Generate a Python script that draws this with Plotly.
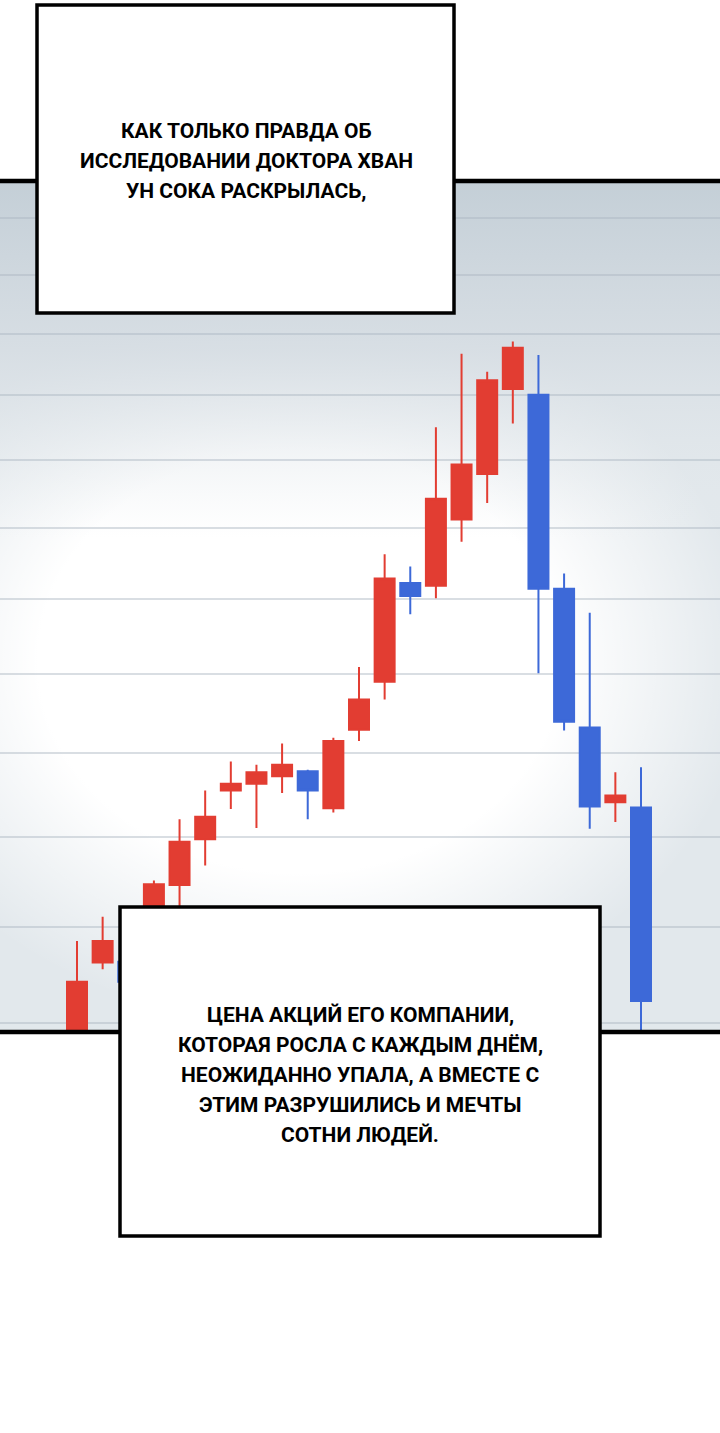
import math
import base64
import plotly.graph_objects as go

# ---- data ----
days = list(range(1, 24))
open_ = [13.60, 14.62, 14.63, 14.97, 15.46, 15.98, 16.55, 16.63, 16.72, 16.78, 16.34, 17.29,
         17.90, 19.22, 19.18, 20.12, 20.79, 22.10, 22.01, 19.14, 17.32, 16.41, 16.35]
high = [14.85, 15.11, 14.71, 15.51, 16.21, 16.55, 16.90, 16.86, 17.12, 16.80, 17.19, 18.09,
        19.62, 19.45, 21.50, 22.67, 22.38, 22.87, 22.65, 19.35, 18.81, 16.77, 16.83]
low = [13.40, 14.55, 14.34, 14.85, 15.22, 15.68, 16.33, 16.11, 16.52, 16.21, 16.29, 17.15,
       17.67, 18.79, 19.01, 19.80, 20.36, 21.56, 18.01, 17.28, 16.10, 16.18, 13.80]
close = [14.42, 14.85, 14.42, 15.47, 15.95, 16.24, 16.63, 16.77, 16.86, 16.55, 17.15, 17.67,
         19.28, 19.04, 20.42, 20.93, 22.24, 22.77, 19.14, 17.39, 16.36, 16.49, 14.22]
grid_values = list(range(14, 26))
y_bottom, y_top = 13.907, 25.675

lines_top = ["КАК ТОЛЬКО ПРАВДА ОБ", "ИССЛЕДОВАНИИ ДОКТОРА ХВАН", "УН СОКА РАСКРЫЛАСЬ,"]
lines_bottom = ["ЦЕНА АКЦИЙ ЕГО КОМПАНИИ,", "КОТОРАЯ РОСЛА С КАЖДЫМ ДНЁМ,",
                "НЕОЖИДАННО УПАЛА, А ВМЕСТЕ С", "ЭТИМ РАЗРУШИЛИСЬ И МЕЧТЫ", "СОТНИ ЛЮДЕЙ."]

RED = "#e23d32"
BLUE = "#3d69d8"

W, H = 720, 1433
PTOP, PBOT = 181, 1032
dom = [(H - PBOT) / H, (H - PTOP) / H]

# background vignette for the chart screen (decorative)
svg = '''<svg xmlns="http://www.w3.org/2000/svg" width="720" height="851" viewBox="0 0 720 851">
<defs>
<radialGradient id="r" cx="300" cy="480" r="430" gradientUnits="userSpaceOnUse" gradientTransform="translate(300 480) scale(1.05 0.85) translate(-300 -480)">
<stop offset="0" stop-color="#ffffff" stop-opacity="1"/>
<stop offset="0.58" stop-color="#ffffff" stop-opacity="1"/>
<stop offset="1" stop-color="#ffffff" stop-opacity="0"/>
</radialGradient>
<linearGradient id="t" x1="0" y1="0" x2="0" y2="1">
<stop offset="0" stop-color="#c4cfd7" stop-opacity="1"/>
<stop offset="0.2" stop-color="#d6dde3" stop-opacity="0.9"/>
<stop offset="0.42" stop-color="#e6ebee" stop-opacity="0"/>
</linearGradient>
</defs>
<rect width="720" height="851" fill="#e2e8ec"/>
<rect width="720" height="851" fill="url(#r)"/>
<rect width="720" height="851" fill="url(#t)"/>
</svg>'''
bg_uri = "data:image/svg+xml;base64," + base64.b64encode(svg.encode()).decode()

fig = go.Figure()
fig.add_trace(go.Candlestick(
    x=days, open=open_, high=high, low=low, close=close,
    increasing=dict(line=dict(color=RED, width=2), fillcolor=RED),
    decreasing=dict(line=dict(color=BLUE, width=2), fillcolor=BLUE),
    whiskerwidth=0, showlegend=False, hoverinfo="skip",
))

px_per_day = (641 - 77) / 22
x0 = days[0] - 77 / px_per_day
x1 = x0 + W / px_per_day

fig.update_layout(
    width=W, height=H, autosize=False,
    margin=dict(l=0, r=0, t=0, b=0),
    paper_bgcolor="white",
    plot_bgcolor="rgba(0,0,0,0)",
    boxgap=0.22, boxgroupgap=0,
    xaxis=dict(range=[x0, x1], showgrid=False, zeroline=False, showticklabels=False,
               ticks="", rangeslider=dict(visible=False), fixedrange=True),
    yaxis=dict(type="log", range=[math.log10(y_bottom), math.log10(y_top)], domain=dom,
               tickvals=grid_values, showticklabels=False, ticks="",
               showgrid=True, gridcolor="rgba(170,182,192,0.45)", gridwidth=2,
               zeroline=False, fixedrange=True),
    images=[dict(source=bg_uri, xref="paper", yref="paper", x=0, y=dom[1],
                 sizex=1, sizey=dom[1] - dom[0], xanchor="left", yanchor="top",
                 sizing="stretch", layer="below")],
)

def py(y):
    return 1 - y / H

shapes = []
for yb in (PTOP, PBOT):
    shapes.append(dict(type="line", xref="paper", yref="paper", x0=-0.01, x1=1.01,
                       y0=py(yb), y1=py(yb), line=dict(color="black", width=4.5), layer="above"))
for (bx0, by0, bx1, by1) in [(37, 5, 454, 313), (120, 907, 600, 1236)]:
    shapes.append(dict(type="rect", xref="paper", yref="paper",
                       x0=bx0 / W, x1=bx1 / W, y0=py(by1), y1=py(by0),
                       fillcolor="white", line=dict(color="black", width=3.5), layer="above"))
fig.update_layout(shapes=shapes)

font = dict(family="Roboto, DejaVu Sans Condensed, sans-serif", size=21, color="black", weight="bold")
for cx, cy0, lines in [(246, 130, lines_top), (360, 1014, lines_bottom)]:
    for i, line in enumerate(lines):
        fig.add_annotation(xref="paper", yref="paper", x=cx / W, y=py(cy0 + 30 * i + 1), text=line,
                           showarrow=False, align="center", xanchor="center", yanchor="middle",
                           font=font)

fig.write_html("out.html", config={"displayModeBar": False},
               post_script="document.body.style.margin='0';")
